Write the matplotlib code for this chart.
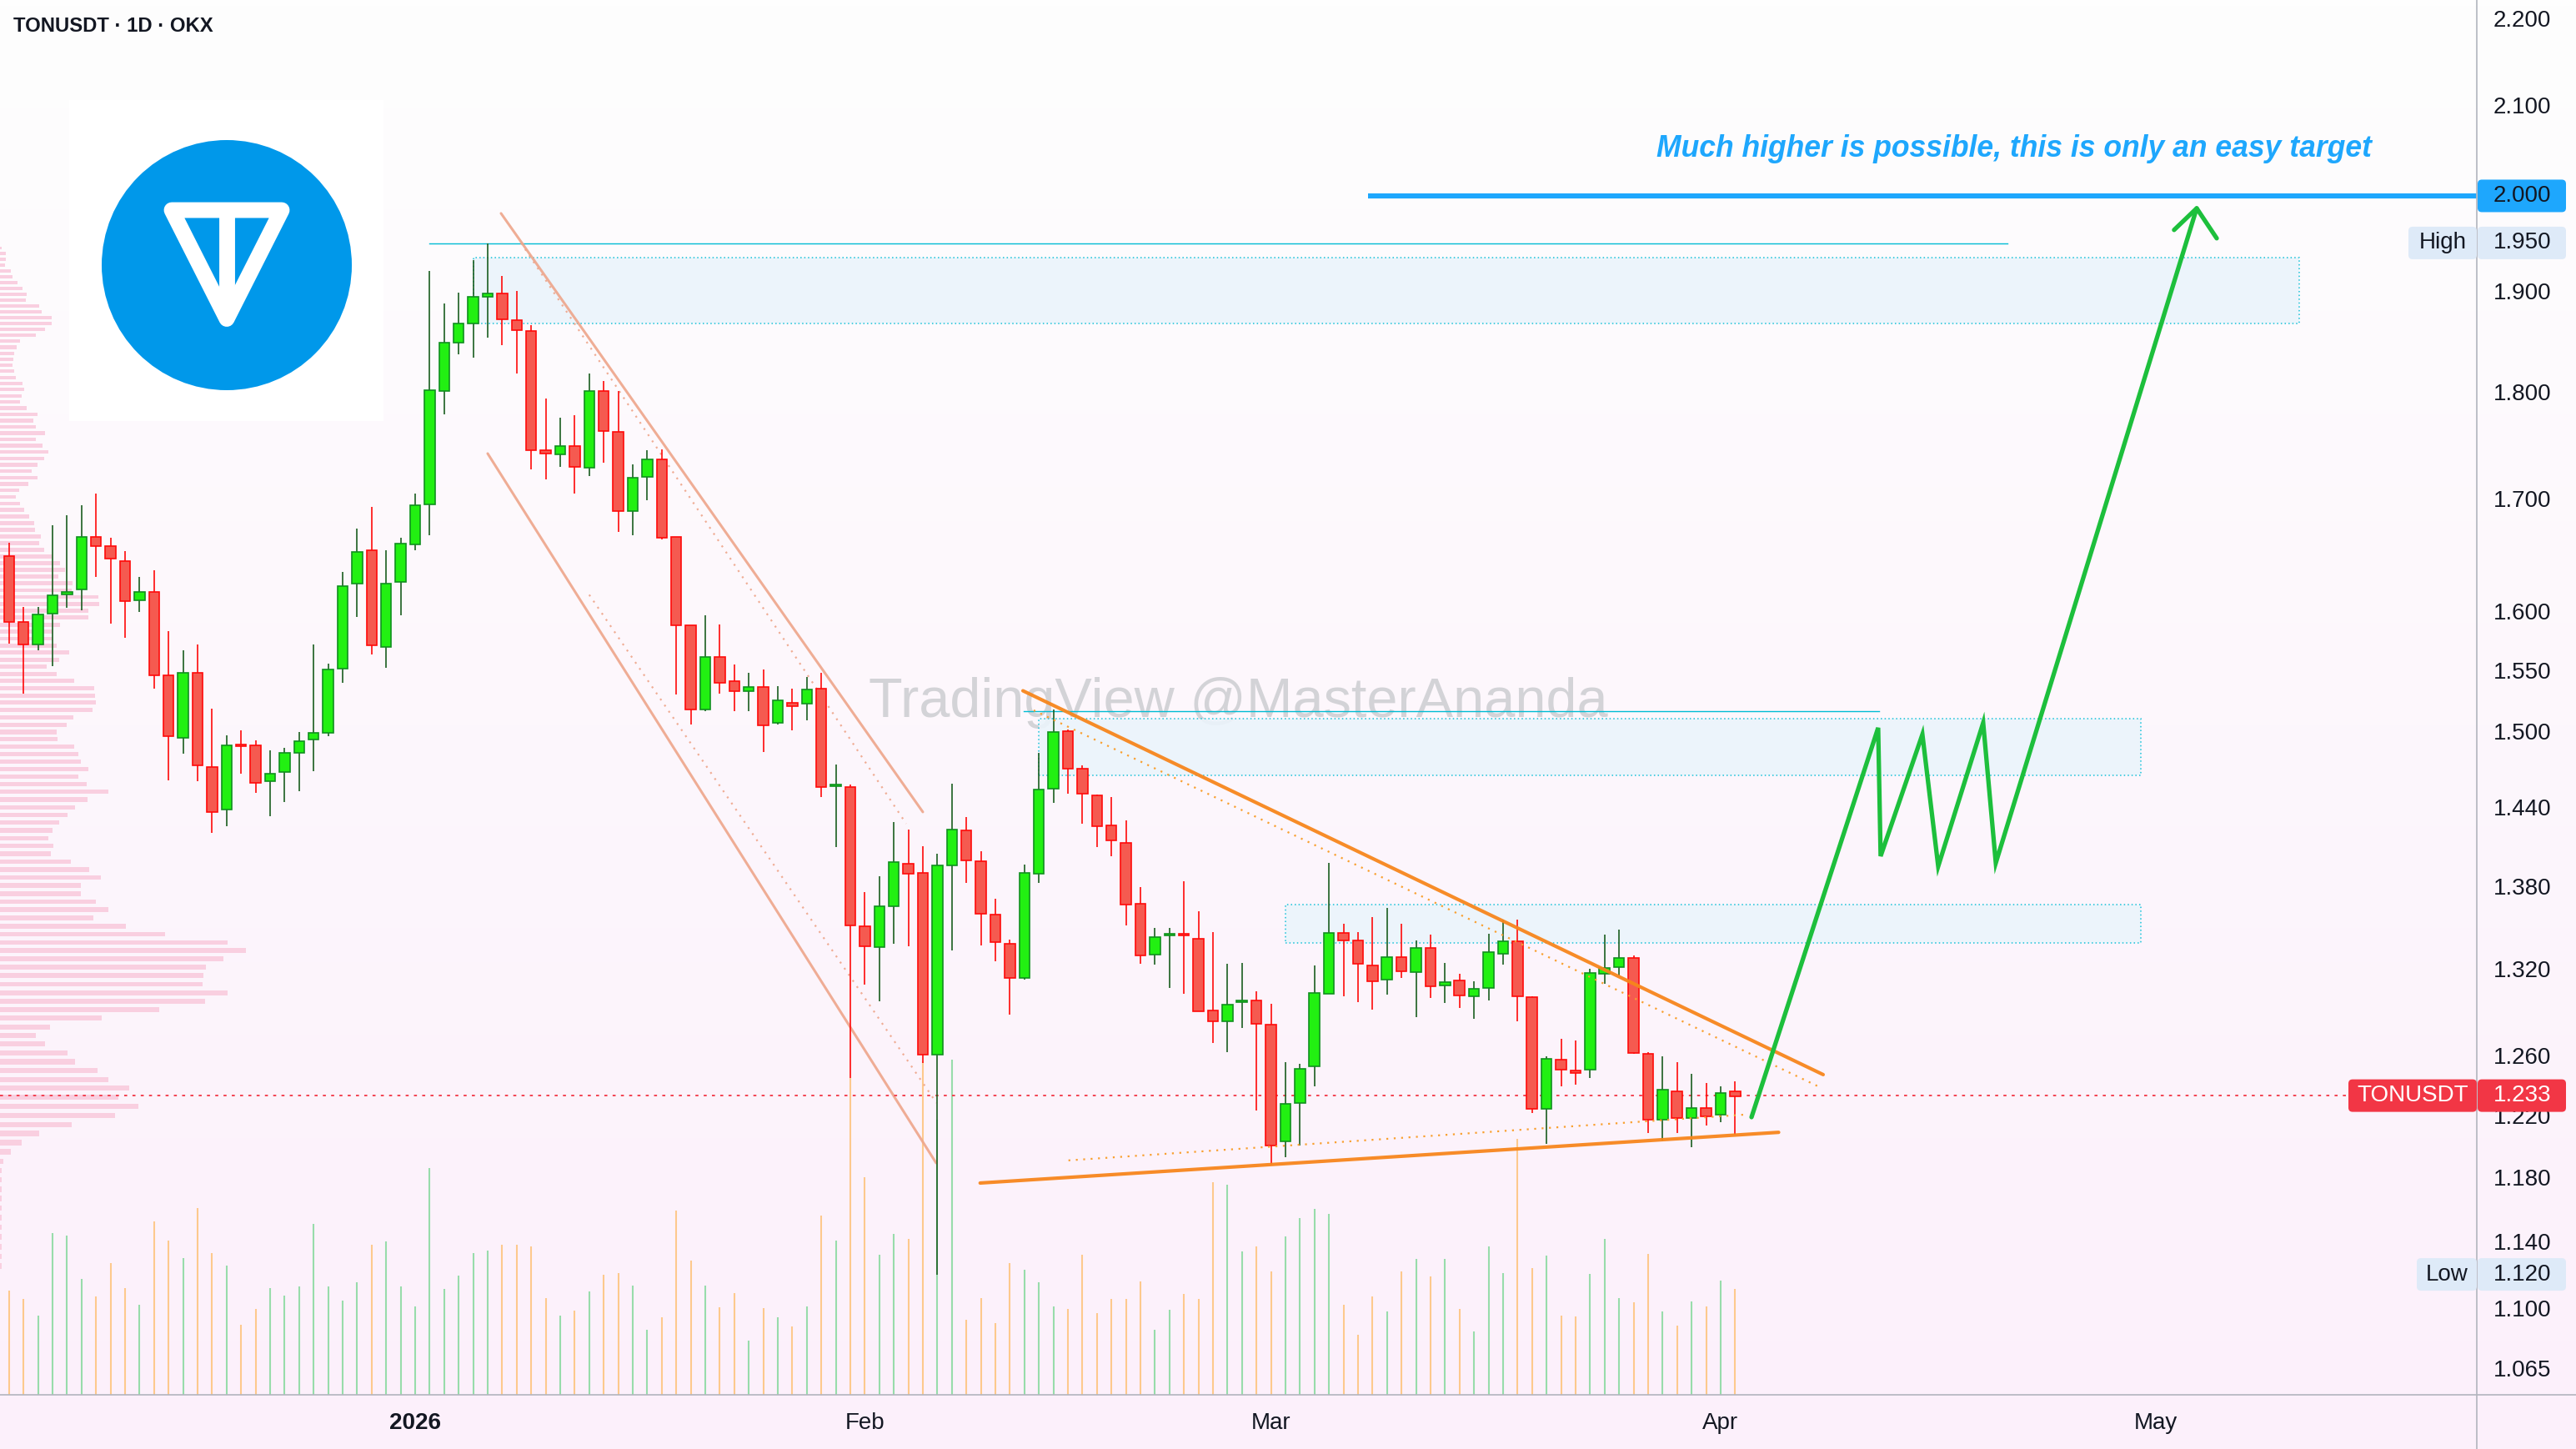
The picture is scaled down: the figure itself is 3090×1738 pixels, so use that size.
import numpy as np
import pandas as pd
import matplotlib
matplotlib.use('Agg')
import matplotlib.pyplot as plt
from matplotlib.patches import Rectangle, Circle, FancyBboxPatch, Polygon
from matplotlib.lines import Line2D
from matplotlib.colors import LinearSegmentedColormap
from matplotlib.transforms import blended_transform_factory, IdentityTransform
from matplotlib.ticker import NullLocator, FixedLocator, FixedFormatter

plt.rcParams['font.family'] = ['Liberation Sans', 'DejaVu Sans']

W, H, DPI = 3090, 1738, 200

# ---- TONUSDT daily candles, 2025-12-04 .. 2026-04-02 ----
dates = pd.date_range('2025-12-04', '2026-04-02', freq='D')
opens = [1.6481, 1.5908, 1.5712, 1.5977, 1.6142, 1.6186, 1.6652, 1.6567, 1.6437, 1.6092,
         1.6166, 1.5458, 1.4946, 1.5479, 1.4710, 1.4377, 1.4891, 1.4882, 1.4598, 1.4675,
         1.4826, 1.4933, 1.4986, 1.5512, 1.6236, 1.6529, 1.5690, 1.6250, 1.6580, 1.6941,
         1.8009, 1.8481, 1.8674, 1.8948, 1.8981, 1.8711, 1.8602, 1.7442, 1.7402, 1.7486,
         1.7279, 1.8006, 1.7619, 1.6881, 1.7197, 1.7361, 1.6650, 1.5874, 1.5176, 1.5610,
         1.5410, 1.5324, 1.5362, 1.5066, 1.5231, 1.5222, 1.5347, 1.4560, 1.4556, 1.3508,
         1.3353, 1.3653, 1.3968, 1.3900, 1.2606, 1.3952, 1.4218, 1.3985, 1.3591, 1.3379,
         1.3137, 1.3891, 1.4539, 1.4999, 1.4699, 1.4492, 1.4260, 1.4125, 1.3672, 1.3299,
         1.3440, 1.3448, 1.3417, 1.2908, 1.2833, 1.2968, 1.2979, 1.2812, 1.2028, 1.2282,
         1.2526, 1.3025, 1.3459, 1.3400, 1.3225, 1.3123, 1.3282, 1.3177, 1.3346, 1.3084,
         1.3119, 1.3005, 1.3065, 1.3307, 1.3396, 1.3003, 1.2241, 1.2572, 1.2499, 1.2501,
         1.3165, 1.3211, 1.3280, 1.2612, 1.2170, 1.2360, 1.2182, 1.2250, 1.2206, 1.2360]
highs = [1.6597, 1.6032, 1.6032, 1.6754, 1.6842, 1.6935, 1.7042, 1.6642, 1.6523, 1.6295,
         1.6354, 1.5828, 1.5665, 1.5714, 1.5182, 1.4966, 1.5007, 1.4926, 1.4846, 1.4865,
         1.4993, 1.5714, 1.5553, 1.6342, 1.6723, 1.6920, 1.6531, 1.6639, 1.7042, 1.9209,
         1.8874, 1.8986, 1.9318, 1.9491, 1.9159, 1.9002, 1.8658, 1.7935, 1.7752, 1.7776,
         1.8179, 1.8107, 1.8009, 1.7310, 1.7445, 1.7450, 1.6650, 1.5874, 1.5963, 1.5886,
         1.5548, 1.5478, 1.5507, 1.5367, 1.5345, 1.5443, 1.5478, 1.4731, 1.4573, 1.3757,
         1.3873, 1.4283, 1.4225, 1.4101, 1.4043, 1.4582, 1.4321, 1.4062, 1.3707, 1.3411,
         1.3959, 1.4822, 1.5172, 1.5010, 1.4725, 1.4499, 1.4477, 1.4295, 1.3793, 1.3492,
         1.3492, 1.3835, 1.3616, 1.3463, 1.3236, 1.3242, 1.3042, 1.2954, 1.2554, 1.2540,
         1.3225, 1.3973, 1.3524, 1.3463, 1.3572, 1.3641, 1.3521, 1.3404, 1.3445, 1.3242,
         1.3165, 1.3111, 1.3451, 1.3554, 1.3554, 1.3005, 1.2591, 1.2712, 1.2700, 1.3201,
         1.3445, 1.3481, 1.3294, 1.2620, 1.2593, 1.2554, 1.2474, 1.2414, 1.2392, 1.2427]
lows = [1.5720, 1.5307, 1.5667, 1.5530, 1.6029, 1.6008, 1.6297, 1.5893, 1.5773, 1.5994,
        1.5348, 1.4605, 1.4815, 1.4598, 1.4201, 1.4252, 1.4657, 1.4508, 1.4328, 1.4437,
        1.4521, 1.4678, 1.4955, 1.5391, 1.5946, 1.5628, 1.5515, 1.5966, 1.6533, 1.6668,
        1.7780, 1.8364, 1.8336, 1.8529, 1.8460, 1.8182, 1.7269, 1.7176, 1.7285, 1.7046,
        1.7200, 1.7330, 1.6697, 1.6666, 1.6983, 1.6629, 1.5295, 1.5054, 1.5158, 1.5307,
        1.5163, 1.5163, 1.4831, 1.5050, 1.5008, 1.5089, 1.4480, 1.4092, 1.2449, 1.3086,
        1.2973, 1.3376, 1.3358, 1.2546, 1.1198, 1.3333, 1.3825, 1.3364, 1.3255, 1.2877,
        1.3126, 1.3825, 1.4430, 1.4502, 1.4273, 1.4094, 1.4026, 1.3514, 1.3238, 1.3230,
        1.3067, 1.3025, 1.2900, 1.2686, 1.2623, 1.2784, 1.2232, 1.1879, 1.1926, 1.2006,
        1.2390, 1.3025, 1.3009, 1.2968, 1.2912, 1.3015, 1.3137, 1.2863, 1.2997, 1.2959,
        1.2924, 1.2848, 1.2977, 1.3227, 1.2834, 1.2217, 1.2016, 1.2393, 1.2404, 1.2445,
        1.3095, 1.3155, 1.2610, 1.2086, 1.2038, 1.2086, 1.1994, 1.2135, 1.2156, 1.2075]
closes = [1.5906, 1.5714, 1.5972, 1.6135, 1.6166, 1.6652, 1.6567, 1.6457, 1.6082, 1.6166,
          1.5456, 1.4955, 1.5479, 1.4727, 1.4360, 1.4882, 1.4875, 1.4586, 1.4662, 1.4828,
          1.4920, 1.4988, 1.5505, 1.6218, 1.6513, 1.5709, 1.6239, 1.6592, 1.6938, 1.8020,
          1.8484, 1.8670, 1.8948, 1.8981, 1.8715, 1.8606, 1.7442, 1.7416, 1.7486, 1.7292,
          1.8006, 1.7622, 1.6881, 1.7191, 1.7361, 1.6640, 1.5878, 1.5176, 1.5610, 1.5397,
          1.5324, 1.5362, 1.5045, 1.5251, 1.5201, 1.5340, 1.4556, 1.4570, 1.3511, 1.3362,
          1.3650, 1.3982, 1.3894, 1.2606, 1.3952, 1.4228, 1.3991, 1.3597, 1.3388, 1.3137,
          1.3900, 1.4536, 1.4989, 1.4702, 1.4500, 1.4249, 1.4144, 1.3661, 1.3295, 1.3429,
          1.3448, 1.3440, 1.2902, 1.2833, 1.2950, 1.2976, 1.2816, 1.2004, 1.2276, 1.2510,
          1.3031, 1.3459, 1.3404, 1.3236, 1.3111, 1.3282, 1.3183, 1.3346, 1.3075, 1.3107,
          1.3013, 1.3061, 1.3317, 1.3396, 1.3005, 1.2241, 1.2578, 1.2501, 1.2481, 1.3172,
          1.3205, 1.3280, 1.2616, 1.2173, 1.2371, 1.2182, 1.2250, 1.2193, 1.2349, 1.2327]
volumes = [125, 115, 95, 194, 191, 139, 118, 158, 128, 108,
           208, 185, 164, 224, 170, 155, 84, 103, 128, 119,
           130, 205, 130, 113, 135, 180, 184, 130, 106, 272,
           127, 143, 170, 173, 180, 180, 178, 116, 95, 101,
           124, 144, 146, 131, 78, 93, 221, 161, 131, 105,
           122, 65, 104, 93, 82, 106, 215, 185, 380, 261,
           168, 193, 187, 400, 330, 402, 90, 116, 86, 158,
           150, 135, 106, 103, 168, 98, 115, 115, 136, 78,
           102, 121, 115, 255, 252, 172, 178, 148, 190, 212,
           223, 217, 108, 72, 118, 100, 148, 163, 142, 163,
           103, 76, 178, 146, 307, 152, 167, 95, 94, 145,
           187, 116, 111, 169, 100, 83, 112, 106, 137, 127]

# visible-range volume profile (row size in price, top row price)
profile_top, profile_step = 1.9447, 0.00594
profile = [2, 7, 7, 6, 13, 15, 21, 27, 32, 31,
           47, 50, 62, 62, 54, 43, 24, 20, 17, 16,
           15, 17, 19, 27, 29, 26, 24, 32, 45, 40,
           43, 54, 43, 51, 58, 53, 45, 38, 45, 34,
           23, 19, 24, 29, 35, 41, 42, 49, 47, 53,
           62, 72, 78, 70, 87, 86, 118, 119, 106, 106,
           72, 63, 63, 68, 83, 71, 56, 68, 89, 113,
           114, 115, 111, 88, 80, 68, 69, 89, 94, 97,
           106, 94, 104, 130, 105, 90, 81, 71, 63, 58,
           64, 61, 85, 107, 121, 97, 97, 115, 130, 112,
           151, 198, 273, 295, 268, 247, 244, 243, 273, 246,
           191, 122, 60, 43, 54, 81, 90, 117, 130, 155,
           142, 166, 138, 86, 47, 26, 13, 4, 2, 2,
           2, 2, 2, 2, 2, 2, 2, 2, 2]

price_ticks = [2.2, 2.1, 1.9, 1.8, 1.7, 1.6, 1.55, 1.5, 1.44, 1.38, 1.32, 1.26,
               1.22, 1.18, 1.14, 1.10, 1.065]
month_labels = ['2026', 'Feb', 'Mar', 'Apr', 'May']
month_dates = ['2026-01-01', '2026-02-01', '2026-03-01', '2026-04-01', '2026-05-01']

# drawings, x in days from 2026-01-01
zones = [(4.0, 129.9, 1.8674, 1.9347), (43.0, 118.96, 1.4648, 1.5097), (59.98, 118.96, 1.3385, 1.3664)]
cyan_lines = [(1.0, 109.8, 1.9491), (41.95, 100.95, 1.5163)]
channel_solid = [((5.92, 35.0), (1.9813, 1.4361)), ((5.0, 35.92), (1.7413, 1.1891))]
channel_dotted = [((7.30, 33.85), (1.9500, 1.4271)), ((12.0, 35.94), (1.6140, 1.2282))]
tri_solid = [((41.9, 97.07), (1.5328, 1.2470)), ((38.95, 94.0), (1.1764, 1.2089))]
tri_dotted = [((42.64, 96.84), (1.5168, 1.2386)), ((45.04, 91.88), (1.1908, 1.2206))]
arrow_days = [92.13, 100.86, 101.03, 103.91, 105.0, 108.10, 108.97, 122.82]
arrow_prices = [1.2188, 1.5026, 1.4024, 1.4972, 1.3948, 1.5066, 1.3973, 1.9867]
head_days = [121.26, 122.82, 124.2]
head_prices = [1.9637, 1.9867, 1.9549]
target_price, target_start = 2.0, 65.7
last_price, high_price, low_price = 1.233, 1.950, 1.120

XMIN, XMAX = -28.62, 142.13
YMIN, YMAX = 1.0498, 2.2221
PLOT_R, PLOT_B = 2971, 1673
rect = [0, 1 - PLOT_B / H, PLOT_R / W, PLOT_B / H]

BODY_UP, EDGE_UP, WICK_UP = '#22f012', '#10901f', '#1b5e20'
BODY_DN, EDGE_DN, WICK_DN = '#f55a50', '#ff0a0a', '#ff0a0a'
TXT = '#131722'

day0 = pd.Timestamp('2026-01-01')
x = np.asarray((dates - day0).days, dtype=float)
o, h, l, c = map(np.asarray, (opens, highs, lows, closes))
up = c >= o

fig = plt.figure(figsize=(W / DPI, H / DPI), dpi=DPI)

# background
bg = fig.add_axes([0, 0, 1, 1])
grad = np.linspace(0, 1, 256)[:, None]
bg.imshow(grad, aspect='auto', extent=[0, W, H, 0],
          cmap=LinearSegmentedColormap.from_list('bg', ['#fefefe', '#fcf0fb']))
bg.add_patch(Rectangle((83, 120), 377, 385, fc='white', ec='none'))
bg.set_xlim(0, W)
bg.set_ylim(H, 0)
bg.axis('off')

# volume profile
axp = fig.add_axes(rect)
axp.set_yscale('log')
prof_prices = profile_top - profile_step * np.arange(len(profile))
axp.barh(prof_prices, profile, height=0.0034, left=0, color='#f9cfe0', lw=0)
axp.set_xlim(0, PLOT_R)
axp.set_ylim(YMIN, YMAX)
axp.axis('off')

# volume
axv = fig.add_axes(rect)
axv.vlines(x, 0, volumes, colors=np.where(up, '#98dcab', '#fdc98d').tolist(), lw=0.75)
axv.set_xlim(XMIN, XMAX)
axv.set_ylim(0, PLOT_B)
axv.axis('off')

# main price pane
ax = fig.add_axes(rect)
ax.set_facecolor('none')
ax.set_yscale('log')
ax.set_xlim(XMIN, XMAX)
ax.set_ylim(YMIN, YMAX)
for s in ax.spines.values():
    s.set_visible(False)

ax.text(0.5, 0.496, 'TradingView @MasterAnanda', transform=ax.transAxes, ha='center',
        va='center', fontsize=24, color='#d3d3d7', zorder=1)

for x0, x1, p0, p1 in zones:
    ax.add_patch(Rectangle((x0, p0), x1 - x0, p1 - p0, fc='#ebf4fb', ec='#00bcd4', lw=0.55,
                           ls=(0, (1, 2)), alpha=0.9, zorder=2))
for x0, x1, p in cyan_lines:
    ax.plot([x0, x1], [p, p], color='#00bcd4', lw=0.5, zorder=2)

for xs, ps in channel_solid:
    ax.plot(xs, ps, color='#eea58a', lw=1.1, alpha=0.9, solid_capstyle='round', zorder=3)
for xs, ps in channel_dotted:
    ax.plot(xs, ps, color='#eea58a', lw=0.8, ls=(0, (1, 3)), alpha=0.9, zorder=3)
for xs, ps in tri_solid:
    ax.plot(xs, ps, color='#f7861c', lw=1.5, solid_capstyle='round', alpha=0.95, zorder=6)
for xs, ps in tri_dotted:
    ax.plot(xs, ps, color='#f9a030', lw=0.8, ls=(0, (1, 3)), zorder=6)

ax.plot([XMIN, 133.3], [last_price, last_price], color='#f23645', lw=0.65, ls=(0, (2, 3.5)), zorder=3)

# candles
ax.vlines(x, l, h, colors=np.where(up, WICK_UP, WICK_DN).tolist(), lw=0.6, zorder=4)
ax.bar(x, np.maximum(np.abs(c - o), 0.0012), bottom=np.minimum(o, c), width=0.72,
       color=np.where(up, BODY_UP, BODY_DN).tolist(),
       edgecolor=np.where(up, EDGE_UP, EDGE_DN).tolist(), linewidth=0.6, zorder=5)

# target + arrow
ax.plot([target_start, XMAX], [target_price, target_price], color='#1ea7fd', lw=2.2,
        solid_capstyle='butt', zorder=6)
ax.text(134.9, 2.051, 'Much higher is possible, this is only an easy target', ha='right',
        va='center', fontsize=12.8, color='#1ea7fd', weight='bold', style='italic', zorder=7)
ax.plot(arrow_days, arrow_prices, color='#1dbf3c', lw=1.9, solid_capstyle='round',
        solid_joinstyle='miter', zorder=7)
ax.plot(head_days, head_prices, color='#1dbf3c', lw=1.9, solid_capstyle='round', zorder=7)

# axes ticks
ax.yaxis.tick_right()
ax.yaxis.set_major_locator(FixedLocator(price_ticks))
ax.yaxis.set_major_formatter(FixedFormatter(['%.3f' % t for t in price_ticks]))
ax.yaxis.set_minor_locator(NullLocator())
ax.tick_params(axis='y', length=0, pad=7.2, labelsize=10, labelcolor=TXT)
ax.set_xticks([])
xb = blended_transform_factory(ax.transData, ax.transAxes)
for lab, d in zip(month_labels, month_dates):
    ax.text((pd.Timestamp(d) - day0).days, -34 / PLOT_B, lab, transform=xb, ha='center',
            va='center', fontsize=10, color=TXT, weight='bold' if lab == '2026' else 'normal',
            clip_on=False)

# axis lines
fig.add_artist(Line2D([0, 1], [1 - PLOT_B / H] * 2, transform=fig.transFigure, color='#b2b5be', lw=0.6))
fig.add_artist(Line2D([PLOT_R / W] * 2, [0, 1], transform=fig.transFigure, color='#b2b5be', lw=0.6))


def price_tag(price, fc, tc, tag=None, tag_left=None):
    yp = ax.transData.transform((0, price))[1]
    bh = 39
    fig.add_artist(FancyBboxPatch((PLOT_R + 1, yp - bh / 2), 106, bh,
                                  boxstyle='round,pad=0,rounding_size=5', fc=fc, ec='none',
                                  transform=IdentityTransform(), zorder=5))
    fig.text(2991, yp, '%.3f' % price, transform=IdentityTransform(), ha='left', va='center',
             fontsize=10, color=tc, zorder=6)
    if tag:
        fig.add_artist(FancyBboxPatch((tag_left, yp - bh / 2), PLOT_R - tag_left, bh,
                                      boxstyle='round,pad=0,rounding_size=5', fc=fc, ec='none',
                                      transform=IdentityTransform(), zorder=5))
        fig.text((tag_left + PLOT_R) / 2, yp, tag, transform=IdentityTransform(), ha='center',
                 va='center', fontsize=10, color=tc, zorder=6)


price_tag(target_price, '#1ea7fd', TXT)
price_tag(high_price, '#deeaf8', TXT, 'High', 2889)
price_tag(low_price, '#deeaf8', TXT, 'Low', 2899)
price_tag(last_price, '#f23645', 'white', 'TONUSDT', 2817)

fig.text(16 / W, 1 - 32 / H, 'TONUSDT · 1D · OKX', ha='left', va='center', fontsize=8.6,
         weight='bold', color=TXT)

# TON logo
lg = fig.add_axes([122 / W, 1 - 468 / H, 300 / W, 300 / H])
lg.set_xlim(-1, 1)
lg.set_ylim(-1, 1)
lg.axis('off')
lg.add_patch(Circle((0, 0), 1, fc='#0098ea', ec='none'))
lg.add_patch(Polygon([(-0.44, 0.44), (0.44, 0.44), (0, -0.43)], closed=True, fill=False,
                     ec='white', lw=6.8, joinstyle='round'))
lg.plot([0, 0], [0.44, -0.40], color='white', lw=6.8, solid_capstyle='butt')

fig.savefig('out.png', dpi=DPI)
